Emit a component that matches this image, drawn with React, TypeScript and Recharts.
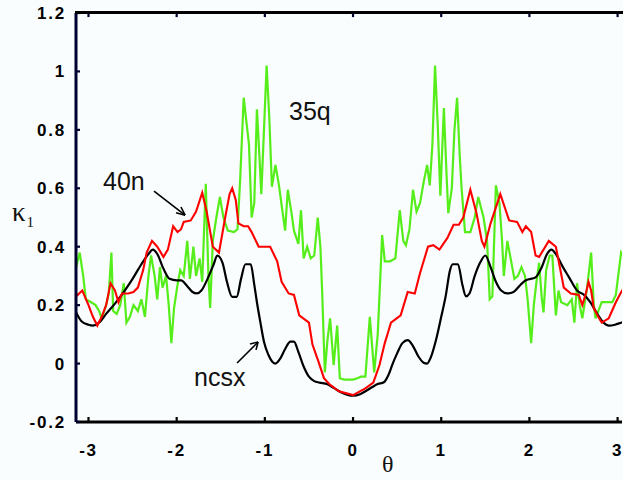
import React from "react";
import { LineChart, Line, XAxis, YAxis, ReferenceLine } from "recharts";

// ncsx (black)
const ncsxTheta = [-3.14, -3.08, -3.0, -2.95, -2.88, -2.8, -2.7, -2.6, -2.5, -2.4, -2.32, -2.27, -2.22, -2.15, -2.08, -2.0, -1.95, -1.88, -1.82, -1.77, -1.72, -1.65, -1.58, -1.54, -1.48, -1.43, -1.37, -1.32, -1.27, -1.22, -1.16, -1.12, -1.09, -1.05, -1.01, -0.96, -0.92, -0.88, -0.83, -0.77, -0.71, -0.67, -0.62, -0.56, -0.5, -0.44, -0.38, -0.29, -0.21, -0.125, -0.06, 0.0, 0.08, 0.15, 0.22, 0.28, 0.35, 0.4, 0.45, 0.5, 0.56, 0.62, 0.68, 0.74, 0.8, 0.84, 0.88, 0.94, 1.0, 1.05, 1.1, 1.13, 1.19, 1.24, 1.28, 1.32, 1.38, 1.44, 1.5, 1.56, 1.62, 1.68, 1.75, 1.82, 1.9, 1.96, 2.07, 2.14, 2.2, 2.25, 2.3, 2.38, 2.45, 2.54, 2.62, 2.69, 2.77, 2.84, 2.9, 2.97, 3.04, 3.14];
const ncsxKappa = [0.175, 0.145, 0.133, 0.13, 0.14, 0.17, 0.205, 0.245, 0.29, 0.34, 0.375, 0.39, 0.375, 0.325, 0.29, 0.285, 0.285, 0.265, 0.245, 0.24, 0.25, 0.29, 0.34, 0.37, 0.345, 0.28, 0.228, 0.228, 0.29, 0.34, 0.34, 0.27, 0.21, 0.14, 0.075, 0.03, 0.008, 0.0, 0.015, 0.05, 0.075, 0.075, 0.04, -0.01, -0.045, -0.06, -0.065, -0.071, -0.085, -0.1, -0.107, -0.11, -0.105, -0.093, -0.08, -0.07, -0.064, -0.04, 0.0, 0.035, 0.07, 0.08, 0.06, 0.025, 0.003, 0.0, 0.02, 0.08, 0.16, 0.23, 0.32, 0.34, 0.34, 0.27, 0.23, 0.24, 0.3, 0.345, 0.37, 0.33, 0.28, 0.25, 0.24, 0.245, 0.27, 0.285, 0.295, 0.33, 0.375, 0.39, 0.375, 0.33, 0.295, 0.25, 0.235, 0.21, 0.17, 0.14, 0.13, 0.133, 0.14, 0.15];

// 40n (red)
const n40Theta = [-3.14, -3.07, -3.0, -2.95, -2.9, -2.85, -2.8, -2.75, -2.7, -2.66, -2.62, -2.55, -2.49, -2.44, -2.38, -2.34, -2.28, -2.22, -2.15, -2.1, -2.04, -1.99, -1.95, -1.92, -1.84, -1.78, -1.71, -1.66, -1.59, -1.52, -1.45, -1.4, -1.37, -1.33, -1.3, -1.24, -1.19, -1.15, -1.07, -1.01, -0.94, -0.86, -0.81, -0.73, -0.67, -0.61, -0.5, -0.46, -0.39, -0.33, -0.27, -0.16, 0.0, 0.14, 0.23, 0.3, 0.36, 0.4, 0.43, 0.54, 0.62, 0.7, 0.76, 0.85, 0.91, 0.98, 1.07, 1.14, 1.2, 1.25, 1.33, 1.4, 1.46, 1.49, 1.56, 1.67, 1.77, 1.86, 1.92, 1.96, 2.02, 2.07, 2.11, 2.22, 2.3, 2.39, 2.47, 2.56, 2.6, 2.64, 2.67, 2.7, 2.73, 2.78, 2.82, 2.9, 2.98, 3.05, 3.14];
const n40Kappa = [0.23, 0.25, 0.2, 0.16, 0.13, 0.16, 0.2, 0.275, 0.25, 0.21, 0.24, 0.24, 0.245, 0.26, 0.32, 0.38, 0.42, 0.4, 0.365, 0.39, 0.47, 0.45, 0.46, 0.485, 0.49, 0.52, 0.585, 0.52, 0.4, 0.38, 0.5, 0.58, 0.6, 0.56, 0.48, 0.47, 0.47, 0.45, 0.4, 0.4, 0.4, 0.35, 0.28, 0.24, 0.235, 0.165, 0.14, 0.065, 0.005, -0.05, -0.07, -0.095, -0.108, -0.085, -0.065, -0.005, 0.07, 0.11, 0.14, 0.165, 0.245, 0.24, 0.31, 0.4, 0.405, 0.39, 0.43, 0.475, 0.475, 0.5, 0.595, 0.515, 0.42, 0.4, 0.48, 0.58, 0.49, 0.485, 0.45, 0.47, 0.45, 0.37, 0.365, 0.42, 0.4, 0.26, 0.24, 0.235, 0.2, 0.24, 0.28, 0.25, 0.19, 0.16, 0.14, 0.155, 0.21, 0.25, 0.26];

// 35q (green)
const q35Theta = [-3.14, -3.1, -3.06, -3.03, -2.97, -2.92, -2.88, -2.85, -2.8, -2.77, -2.74, -2.72, -2.68, -2.64, -2.6, -2.57, -2.53, -2.49, -2.44, -2.4, -2.36, -2.32, -2.29, -2.25, -2.22, -2.19, -2.16, -2.12, -2.09, -2.06, -2.03, -1.99, -1.96, -1.92, -1.88, -1.85, -1.81, -1.78, -1.74, -1.71, -1.67, -1.64, -1.62, -1.59, -1.55, -1.51, -1.47, -1.42, -1.35, -1.31, -1.28, -1.24, -1.21, -1.18, -1.15, -1.12, -1.09, -1.06, -1.04, -1.01, -0.98, -0.95, -0.92, -0.88, -0.84, -0.8, -0.77, -0.74, -0.7, -0.67, -0.62, -0.59, -0.56, -0.52, -0.48, -0.44, -0.4, -0.37, -0.35, -0.32, -0.29, -0.26, -0.22, -0.18, -0.15, -0.1, -0.05, 0.0, 0.05, 0.09, 0.14, 0.19, 0.24, 0.28, 0.31, 0.33, 0.36, 0.42, 0.48, 0.53, 0.57, 0.6, 0.64, 0.68, 0.72, 0.76, 0.8, 0.84, 0.87, 0.9, 0.93, 0.96, 0.99, 1.03, 1.06, 1.08, 1.12, 1.15, 1.18, 1.21, 1.23, 1.27, 1.33, 1.38, 1.42, 1.48, 1.52, 1.55, 1.58, 1.62, 1.66, 1.69, 1.71, 1.75, 1.79, 1.83, 1.87, 1.91, 1.95, 1.98, 2.02, 2.05, 2.08, 2.11, 2.14, 2.16, 2.19, 2.23, 2.26, 2.3, 2.33, 2.36, 2.43, 2.48, 2.51, 2.54, 2.57, 2.6, 2.65, 2.7, 2.73, 2.75, 2.82, 2.94, 2.98, 3.04, 3.08, 3.14];
const q35Kappa = [0.33, 0.38, 0.3, 0.22, 0.21, 0.2, 0.18, 0.155, 0.2, 0.24, 0.38, 0.18, 0.17, 0.2, 0.275, 0.14, 0.16, 0.2, 0.18, 0.22, 0.16, 0.3, 0.37, 0.3, 0.22, 0.33, 0.26, 0.3, 0.2, 0.07, 0.19, 0.27, 0.32, 0.3, 0.42, 0.29, 0.4, 0.3, 0.36, 0.28, 0.615, 0.3, 0.19, 0.42, 0.5, 0.57, 0.5, 0.455, 0.45, 0.46, 0.63, 0.91, 0.83, 0.75, 0.5, 0.55, 0.87, 0.7, 0.58, 0.8, 1.02, 0.845, 0.605, 0.68, 0.61, 0.52, 0.455, 0.595, 0.52, 0.455, 0.41, 0.525, 0.36, 0.4, 0.36, 0.37, 0.5, 0.4, 0.245, -0.03, 0.08, 0.155, -0.005, 0.13, -0.05, -0.055, -0.055, -0.055, -0.05, -0.045, -0.045, 0.16, -0.03, 0.1, 0.3, 0.44, 0.35, 0.35, 0.36, 0.525, 0.42, 0.405, 0.46, 0.595, 0.52, 0.55, 0.62, 0.68, 0.61, 0.75, 1.02, 0.82, 0.575, 0.875, 0.65, 0.515, 0.6, 0.8, 0.91, 0.71, 0.605, 0.45, 0.45, 0.5, 0.57, 0.5, 0.42, 0.22, 0.23, 0.61, 0.55, 0.42, 0.3, 0.42, 0.355, 0.29, 0.3, 0.33, 0.3, 0.22, 0.07, 0.2, 0.28, 0.345, 0.225, 0.175, 0.32, 0.37, 0.37, 0.165, 0.25, 0.21, 0.2, 0.22, 0.14, 0.275, 0.2, 0.155, 0.25, 0.38, 0.2, 0.155, 0.21, 0.21, 0.235, 0.38, 0.36, 0.4];

const xTicks = [-3, -2, -1, 0, 1, 2, 3];
const yTicks = [-0.2, 0, 0.2, 0.4, 0.6, 0.8, 1, 1.2];
const xDomain: [number, number] = [-3.1416, 3.05];
const yDomain: [number, number] = [-0.2, 1.2];

// annotation arrows (theta, kappa): [tailT, tailK, tipT, tipK, headAT, headAK, headBT, headBK]
const arrow40n = [-2.257, 0.59, -1.905, 0.508, -2.007, 0.516, -1.951, 0.536];
const arrowNcsx = [-1.315, 0.002, -1.077, 0.074, -1.168, 0.067, -1.1, 0.047];

const toRows = (t: number[], k: number[]) => t.map((v, i) => ({ t: v, k: k[i] }));
const ncsxData = toRows(ncsxTheta, ncsxKappa);
const n40Data = toRows(n40Theta, n40Kappa);
const q35Data = toRows(q35Theta, q35Kappa);

const INK = "#000000";
const NAVY = "#000030";
const tickFont: React.CSSProperties = {
  fontFamily: "'Liberation Sans', Arial, sans-serif",
  fontWeight: "bold",
  fontSize: 17,
  letterSpacing: 1.8,
};

const BottomTick = (props: any) => {
  const { x, y, payload } = props;
  return (
    <g>
      <line x1={x} y1={y} x2={x} y2={y - 5} stroke={INK} strokeWidth={2.2} />
      <text x={x} y={y + 34} textAnchor="middle" fill={INK} fontSize={17} fontWeight="bold" fontFamily="'Liberation Sans', Arial, sans-serif" letterSpacing={1.8}>
        {String(payload.value)}
      </text>
    </g>
  );
};

const LeftTick = (props: any) => {
  const { x, y, payload } = props;
  return (
    <g>
      <line x1={x} y1={y} x2={x + 4} y2={y} stroke={NAVY} strokeWidth={2.2} />
      <text x={x - 10} y={y + 6} textAnchor="end" fill={INK} style={tickFont}>
        {String(payload.value)}
      </text>
    </g>
  );
};

const arrowSegs = (a: number[], key: string) => [
  <ReferenceLine key={key + "s"} segment={[{ x: a[0], y: a[1] }, { x: a[2], y: a[3] }]} stroke={INK} strokeWidth={1.6} />,
  <ReferenceLine key={key + "a"} segment={[{ x: a[4], y: a[5] }, { x: a[2], y: a[3] }]} stroke={INK} strokeWidth={1.6} />,
  <ReferenceLine key={key + "b"} segment={[{ x: a[6], y: a[7] }, { x: a[2], y: a[3] }]} stroke={INK} strokeWidth={1.6} />,
];

const annFont = "'Liberation Sans', Arial, sans-serif";
const serif = "'Liberation Serif', 'Times New Roman', serif";
const topTickLen = 0.014; // kappa units

const txt = (left: number, top: number, s: string, size: number, family: string) => (
  <div style={{ position: "absolute", left, top, fontFamily: family, fontSize: size, lineHeight: "1", color: "#111", whiteSpace: "nowrap" }}>{s}</div>
);

export default function App() {
  return (
    <div style={{ position: "absolute", left: 0, top: 0, width: 623, height: 480, background: "#f9fdfd", overflow: "hidden" }}>
      <LineChart width={623} height={480} margin={{ top: 13, right: 1, left: 0, bottom: 0 }}>
        <XAxis
          dataKey="t"
          type="number"
          domain={xDomain}
          allowDataOverflow
          ticks={xTicks}
          height={58}
          tickSize={0}
          tickMargin={0}
          tickLine={false}
          axisLine={{ stroke: INK, strokeWidth: 3 }}
          tick={<BottomTick />}
          interval={0}
        />
        <YAxis
          type="number"
          domain={yDomain}
          allowDataOverflow
          ticks={yTicks}
          width={76}
          tickSize={0}
          tickMargin={0}
          tickLine={false}
          axisLine={{ stroke: NAVY, strokeWidth: 3 }}
          tick={<LeftTick />}
          interval={0}
        />
        <Line data={q35Data} dataKey="k" type="linear" stroke="#55ee1a" strokeWidth={2.2} dot={false} isAnimationActive={false} />
        <Line data={ncsxData} dataKey="k" type="monotone" stroke="#000000" strokeWidth={2.2} dot={false} isAnimationActive={false} />
        <Line data={n40Data} dataKey="k" type="linear" stroke="#ff0000" strokeWidth={2.1} dot={false} isAnimationActive={false} />
        {xTicks.map((t) => (
          <ReferenceLine key={"t" + t} segment={[{ x: t, y: yDomain[1] }, { x: t, y: yDomain[1] - topTickLen }]} stroke={NAVY} strokeWidth={2.2} />
        ))}
        {arrowSegs(arrow40n, "a1")}
        {arrowSegs(arrowNcsx, "a2")}
      </LineChart>
      <div style={{ position: "absolute", left: 75, top: 11, width: 548, height: 3, background: "#000" }} />
      {txt(289, 99, "35q", 25, annFont)}
      {txt(103, 169, "40n", 25, annFont)}
      {txt(194, 365, "ncsx", 25, annFont)}
      {txt(382, 452, "θ", 24, serif)}
      <div style={{ position: "absolute", left: 12, top: 199, fontFamily: serif, fontSize: 27, lineHeight: "1", color: "#111", whiteSpace: "nowrap" }}>
        κ<span style={{ fontSize: 15, position: "relative", top: 6, left: 1 }}>1</span>
      </div>
    </div>
  );
}
